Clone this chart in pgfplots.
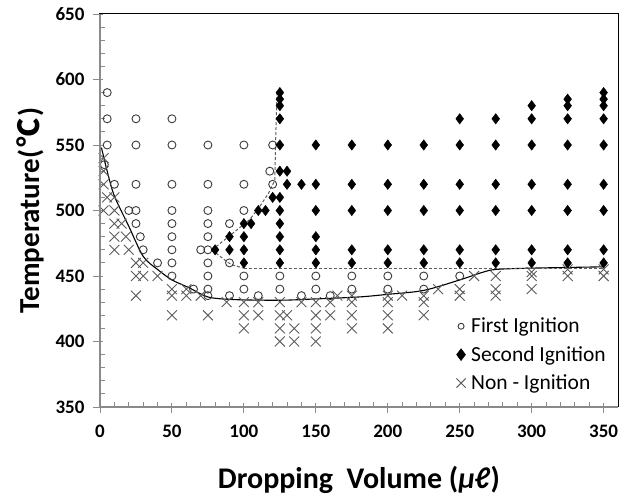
\documentclass[border=0pt]{standalone}
\usepackage{pgfplots}
\pgfplotsset{compat=1.18}
\usepackage{fontspec}
\setmainfont{Carlito}
\newfontfamily\cjk{Noto Sans CJK SC}
\definecolor{circ}{HTML}{3A3A3A}
\definecolor{crs}{HTML}{5C5C5C}
\definecolor{axg}{HTML}{8A8A8A}
\pgfplotsset{mylegimg/.style={legend image code/.code={\draw[##1, mark size=#1] plot coordinates {(0cm,0cm)};}}}
\begin{document}
\begin{tikzpicture}
\begin{axis}[
  scale only axis, width=518pt, height=393pt,
  xmin=0, xmax=360, ymin=350, ymax=650,
  xtick={0,50,...,350}, ytick={350,400,...,650},
  minor x tick num=4, minor y tick num=4,
  xtick pos=bottom, ytick pos=left,
  tick align=inside,
  major tick length=10pt, minor tick length=5pt,
  major x tick style={yshift=-6pt},
  major y tick style={xshift=-7pt},
  tick style={color=axg, line width=0.9pt},
  axis line style={black, line width=1pt},
  ticklabel style={font=\fontsize{19}{22}\selectfont\bfseries, /pgf/number format/assume math mode=true},
  xticklabel style={yshift=-15pt},
  yticklabel style={xshift=-12pt},
  xlabel={\bfseries Dropping\ \ Volume (\itshape μℓ\/\upshape)},
  ylabel={\bfseries Temperature(\kern2pt{\cjk\bfseries ℃}\kern2pt)},
  xlabel style={font=\fontsize{30}{34}\selectfont, at={(axis description cs:0.5,-0.186)}, anchor=center},
  ylabel style={font=\fontsize{29}{33}\selectfont, at={(axis description cs:-0.135,0.5)}, anchor=center},
  legend style={at={(axis description cs:0.682,0.237)}, anchor=north west, draw=none, fill=none,
    font=\fontsize{21.5}{25}\selectfont, row sep=8pt,
    /tikz/every odd column/.append style={column sep=3.5pt}},
  legend cell align=left,
]
\addplot[only marks, mark=o, mark size=4pt, color=circ, line width=0.9pt, mylegimg=3pt]
coordinates {
(3,535)(5,590)(5,570)(5,550)(10,520)(20,500)
(25,570)(25,550)(25,520)(25,500)(25,490)(28,480)(30,470)(40,460)
(50,570)(50,550)(50,520)(50,500)(50,490)(50,480)(50,470)(50,460)(50,450)
(65,440)(70,470)
(75,550)(75,520)(75,500)(75,490)(75,480)(75,470)(75,460)(75,450)(75,440)(75,435)
(90,490)(90,460)(90,435)
(100,550)(100,520)(100,500)(100,450)(100,440)
(110,435)(118,530)(120,550)(120,520)
(125,450)(125,440)(140,435)(150,450)(150,440)(160,435)
(175,450)(175,440)(200,450)(200,440)(225,450)(225,440)(250,450)
};
\addlegendentry{First Ignition}
\addplot[only marks, mark=diamond*, mark size=5.2pt, color=black, mylegimg=6pt]
coordinates {
(80,470)(90,480)(90,470)
(100,490)(100,480)(100,470)(100,460)(105,490)
(110,500)(115,500)(120,510)
(125,590)(125,585)(125,580)(125,570)(125,550)(125,530)(125,510)(125,500)(125,490)(125,480)(125,470)(125,460)
(130,530)(130,520)(140,520)
(150,550)(150,520)(150,500)(150,480)(150,470)(150,460)
(175,550)(175,520)(175,500)(175,470)(175,460)
(200,550)(200,520)(200,500)(200,470)(200,460)
(225,550)(225,520)(225,500)(225,470)(225,460)
(250,570)(250,550)(250,520)(250,500)(250,470)(250,460)
(275,570)(275,550)(275,520)(275,500)(275,470)(275,460)
(300,580)(300,570)(300,550)(300,520)(300,500)(300,470)(300,460)
(325,585)(325,580)(325,570)(325,550)(325,520)(325,500)(325,470)(325,460)
(350,590)(350,585)(350,580)(350,570)(350,550)(350,520)(350,500)(350,470)(350,460)
};
\addlegendentry{Second Ignition}
\addplot[only marks, mark=x, mark size=7pt, color=crs, line width=0.9pt, mylegimg=6.5pt]
coordinates {
(2.5,540)(2.5,530)(2.5,520)(5,510)(10,510)(2.5,500)(10,500)(10,490)(15,490)(10,480)(18,480)(10,470)(20,470)
(25,460)(30,460)(25,450)(30,450)(40,450)(25,435)
(50,440)(50,435)(50,420)(60,440)(60,435)(70,435)(75,420)
(88,430)(100,430)(100,420)(100,410)(110,430)(110,420)
(125,430)(125,420)(125,410)(125,400)(130,420)(135,410)(135,400)(140,430)
(150,430)(150,420)(150,410)(150,400)(160,430)(160,420)(165,435)
(175,435)(175,430)(175,420)(175,410)
(200,435)(200,430)(200,420)(200,410)(210,435)
(225,435)(225,430)(225,420)(235,440)
(250,440)(250,435)(260,450)
(275,450)(275,440)(275,435)
(300,453)(300,450)(300,440)
(325,455)(325,450)(350,455)(350,450)
};
\addlegendentry{Non - Ignition}
\addplot[forget plot, black, line width=1.1pt, smooth, tension=0.5] coordinates {
(1,548)(5,530)(10,511)(20,488)(30,465)(40,455)(50,447)(62,441)(75,434)(93,432)
(125,431.5)(150,432.5)(180,434)(200,436)(225,439)(250,447)(265,452.5)(275,455)(300,456)(350,457)
};
\addplot[forget plot, color=crs, line width=1pt, densely dashed] coordinates {
(78,470)(104,493)(111,503)(117,513)(121.5,523)(122,550)(123,590)
};
\addplot[forget plot, color=crs, line width=1pt, densely dashed, smooth, tension=0.4] coordinates {
(78,470)(84,464.5)(91,459)(100,456)
};
\addplot[forget plot, color=crs, line width=1pt, densely dashed] coordinates {
(100,456)(350,456)
};
\end{axis}
\draw[axg, line width=1.3pt] (current axis.north west) -- (current axis.south west) -- (current axis.south east);
\pgfresetboundingbox
\path ([xshift=-100pt,yshift=-90pt]current axis.south west) rectangle ([xshift=13pt,yshift=14pt]current axis.north east);
\end{tikzpicture}
\end{document}
